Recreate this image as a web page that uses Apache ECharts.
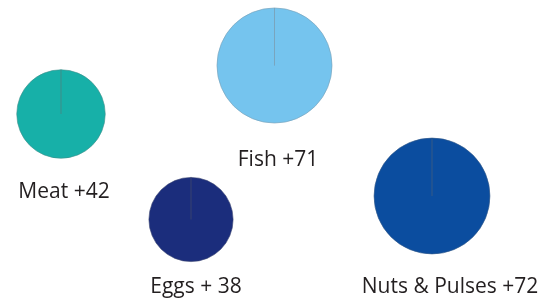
<!DOCTYPE html>
<html>
<head>
<meta charset="utf-8">
<script src="https://cdn.jsdelivr.net/npm/echarts@6/dist/echarts.min.js"></script>
<style>
html,body{margin:0;padding:0;background:#fff;}
#main{width:540px;height:299px;}
</style>
</head>
<body>
<div id="main"></div>
<script>
// 数据
var categories = ['Meat', 'Fish', 'Eggs', 'Nuts & Pulses'];
var values = [42, 71, 38, 72];
var labelText = ['Meat +42', 'Fish +71', 'Eggs + 38', 'Nuts & Pulses +72'];

// 样式
var colors = ['#17b0a8', '#75c4ee', '#1b2d7c', '#0b4d9f'];
var borders = ['#3f8f8a', '#7a9fb5', '#3a4470', '#355a88'];
var centers = [[61, 114], [274.5, 65.5], [191, 219.5], [432, 196]];
var labelPos = [[59, 187], [273, 155], [191, 282], [445, 282]];
var radiusScale = 6.83; // 面积与数值成比例

var chartDom = document.getElementById('main');
var myChart = echarts.init(chartDom);

var series = categories.map(function (name, i) {
  return {
    name: name,
    type: 'pie',
    center: centers[i],
    radius: [0, radiusScale * Math.sqrt(values[i])],
    startAngle: 90,
    silent: true,
    animation: false,
    label: { show: false },
    labelLine: { show: false },
    itemStyle: {
      color: colors[i],
      borderColor: borders[i],
      borderWidth: 0.6
    },
    // 第二项为0，用来画出圆心到顶部的细线
    data: [
      { name: name, value: values[i] },
      { name: '', value: 0 }
    ]
  };
});

var titles = labelText.map(function (t, i) {
  return {
    text: t,
    left: labelPos[i][0],
    top: labelPos[i][1],
    textAlign: 'center',
    textVerticalAlign: 'middle',
    textStyle: {
      fontFamily: 'Open Sans',
      fontWeight: 'normal',
      fontSize: 21,
      color: '#231f20'
    }
  };
});

var option = {
  backgroundColor: '#fff',
  title: titles,
  series: series
};

option && myChart.setOption(option);
</script>
</body>
</html>
